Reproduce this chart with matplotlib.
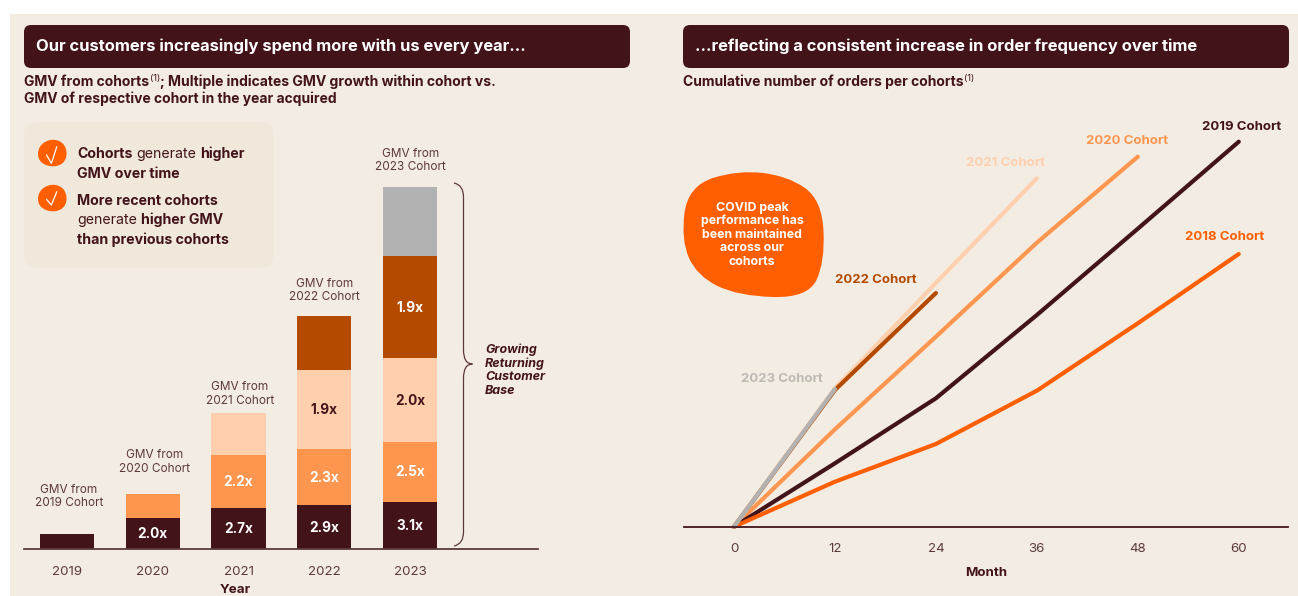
import matplotlib
matplotlib.use("Agg")
import matplotlib.pyplot as plt
from matplotlib.patches import FancyBboxPatch, PathPatch, Rectangle
from matplotlib.path import Path

# GMV by acquisition cohort, one list per cohort (None = cohort not acquired yet)
years = ["2019", "2020", "2021", "2022", "2023"]
gmv_2019_cohort = [15.3, 30.6, 41.3, 44.4, 47.4]
gmv_2020_cohort = [None, 24.0, 52.8, 55.2, 60.0]
gmv_2021_cohort = [None, None, 41.7, 79.2, 83.4]
gmv_2022_cohort = [None, None, None, 54.0, 102.6]
gmv_2023_cohort = [None, None, None, None, 68.7]

mult_2019_cohort = [None, "2.0x", "2.7x", "2.9x", "3.1x"]
mult_2020_cohort = [None, None, "2.2x", "2.3x", "2.5x"]
mult_2021_cohort = [None, None, None, "1.9x", "2.0x"]
mult_2022_cohort = [None, None, None, None, "1.9x"]

# Cumulative orders per cohort by month since acquisition
months = [0, 12, 24, 36, 48, 60]
orders_2018 = [0, 45, 82.7, 136, 203.4, 272.7]
orders_2019 = [0, 63.4, 128.4, 211.7, 298, 385]
orders_2020 = [0, 97.4, 190, 284, 370]
orders_2021 = [0, 138.4, 243.7, 348.4]
orders_2022 = [0, 136.7, 233.7]
orders_2023 = [0, 137.7]

BG = "#F3ECE2"
PANEL = "#F0E8DB"
DARK = "#42141A"
ORANGE = "#FF5F00"
LIGHT_ORANGE = "#FF964F"
PEACH = "#FFCFAE"
BROWN = "#B34A00"
GREY = "#B2B2B2"
TEXT_GREY = "#BDB9B4"
SOFT = "#5C3A3C"

plt.rcParams["font.family"] = ["Inter", "DejaVu Sans"]

W, H = 1298, 596
fig = plt.figure(figsize=(W / 100, H / 100), dpi=100, facecolor="white")


def px_axes(left, right, top, bottom, **kwargs):
    return fig.add_axes([left / W, 1 - bottom / H, (right - left) / W, (bottom - top) / H], **kwargs)


# Cream sheet and a pixel-based layer for the slide furniture
back = px_axes(0, W, 0, H, zorder=0)
back.set_xlim(0, W)
back.set_ylim(H, 0)
back.axis("off")
back.add_patch(Rectangle((10, 14), W - 10, H - 14, color=BG, lw=0))

over = px_axes(0, W, 0, H, zorder=5)
over.set_xlim(0, W)
over.set_ylim(H, 0)
over.axis("off")
over.patch.set_alpha(0)


def rounded(x0, y0, x1, y1, r, color):
    back.add_patch(FancyBboxPatch((x0 + r, y0 + r), x1 - x0 - 2 * r, y1 - y0 - 2 * r,
                                  boxstyle=f"round,pad={r},rounding_size={r}", fc=color, ec="none"))


def blob(points, color, ax):
    # closed smooth outline: quadratic segments running through edge midpoints
    n = len(points)
    mids = [((points[i][0] + points[(i + 1) % n][0]) / 2, (points[i][1] + points[(i + 1) % n][1]) / 2) for i in range(n)]
    verts = [mids[-1]]
    codes = [Path.MOVETO]
    for i in range(n):
        verts += [points[i], mids[i]]
        codes += [Path.CURVE3, Path.CURVE3]
    ax.add_patch(PathPatch(Path(verts, codes), fc=color, ec="none"))


def runs(x, baseline, parts, size=10.0, color=DARK, gap=3.6):
    # one line of text with mixed weights, all runs sharing a baseline
    renderer = fig.canvas.get_renderer()
    for part, weight in parts:
        t = over.text(x, baseline, part, fontsize=size, fontweight=weight, color=color, va="baseline", ha="left")
        x += t.get_window_extent(renderer).width + gap
    return x


# Headers
rounded(24, 25, 630, 68, 7, DARK)
rounded(683, 25, 1289, 68, 7, DARK)
over.text(36, 51.5, "Our customers increasingly spend more with us every year...", fontsize=11.92,
          fontweight="bold", color="white", va="baseline")
over.text(695, 51.5, "...reflecting a consistent increase in order frequency over time", fontsize=11.92,
          fontweight="bold", color="white", va="baseline")

end = runs(24, 86, [("GMV from cohorts", "bold")])
over.text(end - 3.2, 81, "(1)", fontsize=6.6, color=DARK, va="baseline")
over.text(end + 7.6, 86, "; Multiple indicates GMV growth within cohort vs.", fontsize=10.05, fontweight="bold",
          color=DARK, va="baseline")
runs(24, 102.7, [("GMV of respective cohort in the year acquired", "bold")])
end = runs(683, 86, [("Cumulative number of orders per cohorts", "bold")])
over.text(end - 3.2, 81, "(1)", fontsize=6.6, color=DARK, va="baseline")

# Takeaway panel
rounded(24, 122, 274, 268, 14, PANEL)
checks = [(153, [155, 163.3, 146.7]), (198, [199.3, 205, 191.7])]
for cy, tick_y in checks:
    blob([(52, cy - 15), (66, cy - 9), (67, cy + 8), (54, cy + 15), (38, cy + 9), (38, cy - 7)], ORANGE, over)
    over.plot([46.5, 51.4, 56.8], tick_y, color="white", lw=0.9, solid_capstyle="round")

runs(77, 158, [("Cohorts", "bold"), ("generate", "normal"), ("higher", "bold")], size=10.2, gap=4)
runs(77, 177.7, [("GMV over time", "bold")], size=10.2)
runs(77, 205, [("More recent cohorts", "bold")], size=10.2)
runs(77, 224.3, [("generate", "normal"), ("higher GMV", "bold")], size=10.2, gap=4)
runs(77, 243.7, [("than previous cohorts", "bold")], size=10.2)

# Stacked bars
ax = px_axes(24, 538, 120, 549, zorder=2)
ax.patch.set_alpha(0)
ax.set_xlim(-0.5, 5.49)
ax.set_ylim(0, 429)
for side in ("top", "left", "right"):
    ax.spines[side].set_visible(False)
ax.spines["bottom"].set_color(SOFT)
ax.spines["bottom"].set_linewidth(1.3)
ax.set_yticks([])
ax.set_xticks(range(len(years)))
ax.set_xticklabels(years, fontsize=9.6, color=SOFT)
ax.tick_params(axis="x", length=0, pad=12)

stacks = [
    (gmv_2019_cohort, DARK, mult_2019_cohort, "white"),
    (gmv_2020_cohort, LIGHT_ORANGE, mult_2020_cohort, "white"),
    (gmv_2021_cohort, PEACH, mult_2021_cohort, DARK),
    (gmv_2022_cohort, BROWN, mult_2022_cohort, "white"),
    (gmv_2023_cohort, GREY, [None] * 5, "white"),
]
totals = [0] * len(years)
for values, color, labels, label_color in stacks:
    for i, value in enumerate(values):
        if value is None:
            continue
        ax.bar(i, value, bottom=totals[i], width=0.63, color=color, lw=0)
        if labels[i]:
            ax.text(i, totals[i] + value / 2 - 0.7, labels[i], ha="center", va="center", fontsize=9.8,
                    fontweight="bold", color=label_color)
        totals[i] += value

cohort_captions = [(69, 489), (154.5, 454), (240, 386), (324.5, 283), (410.5, 153)]
for year, (cx, cy) in zip(years, cohort_captions):
    over.text(cx, cy + 4, "GMV from", fontsize=8.5, color=SOFT, ha="center", va="baseline")
    over.text(cx, cy + 17.5, f"{year} Cohort", fontsize=8.5, color=SOFT, ha="center", va="baseline")

# Brace over the returning customers part of the 2023 bar
brace = Path(
    [(454, 183), (463.5, 185), (463.5, 197), (463.5, 350), (463.5, 364), (472.5, 364), (463.5, 364), (463.5, 378),
     (463.5, 532), (463.5, 544), (454, 546)],
    [Path.MOVETO, Path.CURVE3, Path.CURVE3, Path.LINETO, Path.CURVE3, Path.CURVE3, Path.CURVE3, Path.CURVE3,
     Path.LINETO, Path.CURVE3, Path.CURVE3])
over.add_patch(PathPatch(brace, fc="none", ec=SOFT, lw=0.9))
for y, line in zip((353.5, 367, 380.5, 394), ("Growing", "Returning", "Customer", "Base")):
    over.text(485, y, line, fontsize=9, fontweight="bold", fontstyle="italic", color=DARK, va="baseline")
over.text(235, 590, "Year", fontsize=9.6, fontweight="bold", color=DARK, ha="center", va="center")

# Cohort order lines
ax2 = px_axes(683.5, 1288, 110, 526.7, zorder=2)
ax2.patch.set_alpha(0)
ax2.set_xlim(-6, 65.85)
ax2.set_ylim(0, 416.7)
for side in ("top", "left", "right"):
    ax2.spines[side].set_visible(False)
ax2.spines["bottom"].set_color(DARK)
ax2.spines["bottom"].set_linewidth(1.3)
ax2.set_yticks([])
ax2.set_xticks(months)
ax2.set_xticklabels(months, fontsize=9.6, color=SOFT)
ax2.tick_params(axis="x", length=0, pad=11.5)

series = [
    (orders_2021, PEACH, "2021 Cohort", 1005, 166),
    (orders_2022, BROWN, "2022 Cohort", 876, 283),
    (orders_2020, LIGHT_ORANGE, "2020 Cohort", 1127, 144.5),
    (orders_2019, DARK, "2019 Cohort", 1242, 130.5),
    (orders_2018, ORANGE, "2018 Cohort", 1225, 240),
    (orders_2023, GREY, "2023 Cohort", 782, 381.5),
]
for values, color, label, lx, ly in series:
    ax2.plot(months[:len(values)], values, color=color, lw=3, solid_capstyle="round", solid_joinstyle="round",
             clip_on=False)
    over.text(lx, ly, label, fontsize=9.5, fontweight="bold", ha="center", va="baseline",
              color=TEXT_GREY if color == GREY else color)

over.text(986, 573, "Month", fontsize=9.6, fontweight="bold", color=DARK, ha="center", va="center")

# COVID callout
blob([(738, 170), (788, 176), (822, 200), (825, 262), (808, 298), (738, 296), (697, 276), (681, 240),
      (688, 186)], ORANGE, over)
for y, line in zip((210.5, 224, 237.5, 251, 265), ("COVID peak", "performance has", "been maintained", "across our",
                                                   "cohorts")):
    over.text(752, y, line, fontsize=8.9, fontweight="bold", color="white", ha="center", va="baseline")

fig.savefig("out.png", dpi=100, facecolor="white")
